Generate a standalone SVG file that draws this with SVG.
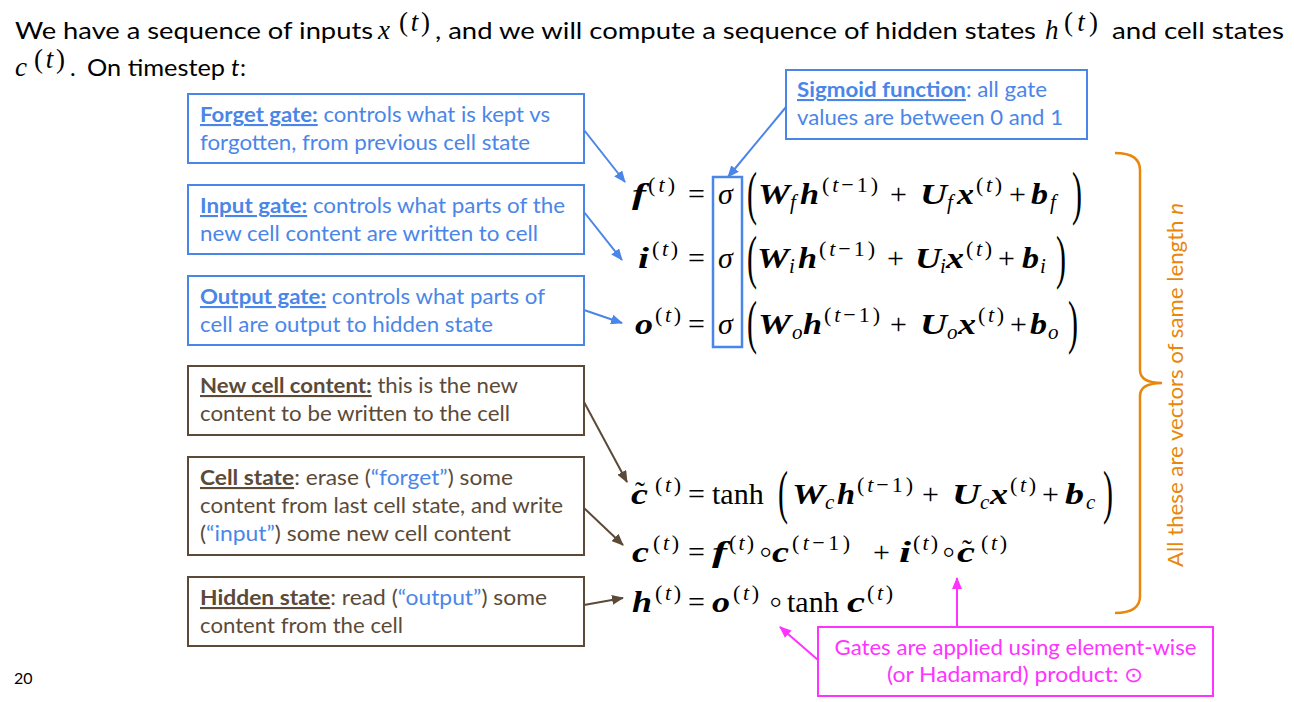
<svg xmlns="http://www.w3.org/2000/svg" width="1294" height="702" viewBox="0 0 1294 702">
<style>
.bg{fill:#fff}
.bb{fill:none;stroke:#4a86e8;stroke-width:2}
.br{fill:none;stroke:#5c4a38;stroke-width:2}
.bp{fill:none;stroke:#ff33ff;stroke-width:2}
.t{font-family:Lato,"Liberation Sans",sans-serif;font-size:21px}
.h{font-family:Lato,"Liberation Sans",sans-serif;font-size:24px;fill:#000}
.cb{fill:#4a86e8}
.cr{fill:#5c4a38}
.cp{fill:#ff33ff}
.co{fill:#e8870c}
.lbl{font-weight:bold;text-decoration:underline}
.m{font-family:"Liberation Serif",serif;font-size:30px;fill:#000}
.mb{font-weight:bold;font-style:italic}
.s{font-family:"Liberation Serif",serif;font-size:22px;fill:#000}
.hs{font-family:"Liberation Serif",serif;font-size:27px;fill:#000}
.sb{font-family:"Liberation Serif",serif;font-size:21px;fill:#000;font-style:italic}
.i{font-style:italic}
.ring{font-family:"DejaVu Sans",sans-serif;font-size:34px;font-weight:200;fill:#000;letter-spacing:-14px}
.cl{fill:none;stroke-width:2}
</style>
<defs>
<marker id="ab" markerUnits="userSpaceOnUse" markerWidth="12" markerHeight="10" refX="11" refY="5" orient="auto"><path d="M0,0 L12,5 L0,10 z" fill="#4a86e8"/></marker>
<marker id="ar" markerUnits="userSpaceOnUse" markerWidth="12" markerHeight="10" refX="11" refY="5" orient="auto"><path d="M0,0 L12,5 L0,10 z" fill="#5c4a38"/></marker>
<marker id="ap" markerUnits="userSpaceOnUse" markerWidth="12" markerHeight="10" refX="11" refY="5" orient="auto"><path d="M0,0 L12,5 L0,10 z" fill="#ff33ff"/></marker>
</defs>
<rect class="bg" x="0" y="0" width="1294" height="702"/>

<g id="header">
<text class="h" x="15" y="39" textLength="358" lengthAdjust="spacingAndGlyphs">We have a sequence of inputs</text>
<text class="m i" x="378" y="39" style="font-size:27px">x</text>
<text class="hs" x="399" y="31" textLength="31">(<tspan class="i">t</tspan>)</text>
<text class="h" x="435" y="39" textLength="601" lengthAdjust="spacingAndGlyphs">, and we will compute a sequence of hidden states</text>
<text class="m i" x="1045" y="39" style="font-size:27px">h</text>
<text class="hs" x="1064" y="31" textLength="34">(<tspan class="i">t</tspan>)</text>
<text class="h" x="1112" y="39" textLength="172" lengthAdjust="spacingAndGlyphs">and cell states</text>
<text class="m i" x="15" y="76" style="font-size:27px">c</text>
<text class="hs" x="34" y="68" textLength="31">(<tspan class="i">t</tspan>)</text>
<text class="h" x="70" y="76">.</text>
<text class="h" x="87" y="76" textLength="138" lengthAdjust="spacingAndGlyphs">On timestep</text>
<text class="h i" x="231" y="76">t</text>
<text class="h" x="240" y="76">:</text>
</g>

<g id="forget-gate">
<rect class="bb" x="188" y="94" width="396" height="69"/>
<text class="t cb" x="200" y="122" textLength="350" lengthAdjust="spacingAndGlyphs"><tspan class="lbl">Forget gate:</tspan> controls what is kept vs</text>
<text class="t cb" x="200" y="150" textLength="330" lengthAdjust="spacingAndGlyphs">forgotten, from previous cell state</text>
</g>
<g id="input-gate">
<rect class="bb" x="188" y="185" width="396" height="69"/>
<text class="t cb" x="200" y="213" textLength="365" lengthAdjust="spacingAndGlyphs"><tspan class="lbl">Input gate:</tspan> controls what parts of the</text>
<text class="t cb" x="200" y="241" textLength="338" lengthAdjust="spacingAndGlyphs">new cell content are written to cell</text>
</g>
<g id="output-gate">
<rect class="bb" x="188" y="276" width="396" height="69"/>
<text class="t cb" x="200" y="304" textLength="345" lengthAdjust="spacingAndGlyphs"><tspan class="lbl">Output gate:</tspan> controls what parts of</text>
<text class="t cb" x="200" y="332" textLength="293" lengthAdjust="spacingAndGlyphs">cell are output to hidden state</text>
</g>
<g id="new-cell-content">
<rect class="br" x="188" y="366" width="396" height="69"/>
<text class="t cr" x="200" y="393" textLength="318" lengthAdjust="spacingAndGlyphs"><tspan class="lbl">New cell content:</tspan> this is the new</text>
<text class="t cr" x="200" y="421" textLength="310" lengthAdjust="spacingAndGlyphs">content to be written to the cell</text>
</g>
<g id="cell-state">
<rect class="br" x="188" y="457" width="396" height="98"/>
<text class="t cr" x="200" y="485" textLength="313" lengthAdjust="spacingAndGlyphs"><tspan class="lbl">Cell state</tspan>: erase (<tspan class="cb">“forget”</tspan>) some</text>
<text class="t cr" x="200" y="513" textLength="363" lengthAdjust="spacingAndGlyphs">content from last cell state, and write</text>
<text class="t cr" x="200" y="541" textLength="311" lengthAdjust="spacingAndGlyphs">(<tspan class="cb">“input”</tspan>) some new cell content</text>
</g>
<g id="hidden-state">
<rect class="br" x="188" y="577" width="396" height="69"/>
<text class="t cr" x="200" y="605" textLength="347" lengthAdjust="spacingAndGlyphs"><tspan class="lbl">Hidden state</tspan>: read (<tspan class="cb">“output”</tspan>) some</text>
<text class="t cr" x="200" y="633" textLength="203" lengthAdjust="spacingAndGlyphs">content from the cell</text>
</g>
<g id="sigmoid-function">
<rect class="bb" x="786" y="70" width="301" height="69"/>
<text class="t cb" x="797" y="97" textLength="250" lengthAdjust="spacingAndGlyphs"><tspan class="lbl">Sigmoid function</tspan>: all gate</text>
<text class="t cb" x="797" y="125" textLength="266" lengthAdjust="spacingAndGlyphs">values are between 0 and 1</text>
</g>
<g id="sigma-box">
<rect class="bb" x="713" y="177" width="29" height="170" style="stroke-width:2.5"/>
</g>
<g id="hadamard-note">
<rect class="bp" x="818" y="627" width="395" height="69"/>
<text class="t cp" x="1015.5" y="655" text-anchor="middle" textLength="362" lengthAdjust="spacingAndGlyphs">Gates are applied using element-wise</text>
<text class="t cp" x="1015.5" y="682" text-anchor="middle" textLength="257" lengthAdjust="spacingAndGlyphs">(or Hadamard) product: ⊙</text>
</g>
<g id="vectors-note">
<path d="M1115,153 Q1140,153 1140,170 L1140,370 Q1140,383 1162,383 Q1140,383 1140,396 L1140,596 Q1140,613 1115,613" fill="none" stroke="#e8870c" stroke-width="2.5"/>
<text class="t co" transform="translate(1183,567) rotate(-90)" x="0" y="0" textLength="364" lengthAdjust="spacingAndGlyphs">All these are vectors of same length <tspan class="i">n</tspan></text>
</g>
<g id="page-number">
<text class="t" x="14" y="684" style="font-size:16px">20</text>
</g>

<g id="eq-f">
<text class="m mb" x="632" y="204" textLength="14" lengthAdjust="spacingAndGlyphs">f</text>
<text class="s" x="648" y="192" textLength="27">(<tspan class="i">t</tspan>)</text>
<text class="m" x="688" y="204">=</text>
<text class="m i" x="718" y="204">σ</text>
<text class="m" transform="translate(747,213) scale(1,2)">(</text>
<text class="m mb" x="758" y="204" textLength="32" lengthAdjust="spacingAndGlyphs">W</text>
<text class="sb" x="790" y="209">f</text>
<text class="m mb" x="800" y="204" textLength="19" lengthAdjust="spacingAndGlyphs">h</text>
<text class="s" x="822" y="192" textLength="56">(<tspan class="i">t</tspan>−1)</text>
<text class="m" x="890" y="204">+</text>
<text class="m mb" x="920" y="204" textLength="27" lengthAdjust="spacingAndGlyphs">U</text>
<text class="sb" x="947" y="209">f</text>
<text class="m mb" x="957" y="204" textLength="17" lengthAdjust="spacingAndGlyphs">x</text>
<text class="s" x="976" y="192" textLength="26">(<tspan class="i">t</tspan>)</text>
<text class="m" x="1009" y="204">+</text>
<text class="m mb" x="1031" y="204" textLength="17" lengthAdjust="spacingAndGlyphs">b</text>
<text class="sb" x="1050" y="209">f</text>
<text class="m" transform="translate(1072,213) scale(1,2)">)</text>
</g>
<g id="eq-i">
<text class="m mb" x="638" y="268" textLength="11" lengthAdjust="spacingAndGlyphs">i</text>
<text class="s" x="652" y="256" textLength="26">(<tspan class="i">t</tspan>)</text>
<text class="m" x="688" y="268">=</text>
<text class="m i" x="718" y="268">σ</text>
<text class="m" transform="translate(747,277) scale(1,2)">(</text>
<text class="m mb" x="757" y="268" textLength="32" lengthAdjust="spacingAndGlyphs">W</text>
<text class="sb" x="789" y="273">i</text>
<text class="m mb" x="798" y="268" textLength="19" lengthAdjust="spacingAndGlyphs">h</text>
<text class="s" x="819" y="256" textLength="56">(<tspan class="i">t</tspan>−1)</text>
<text class="m" x="887" y="268">+</text>
<text class="m mb" x="915" y="268" textLength="26" lengthAdjust="spacingAndGlyphs">U</text>
<text class="sb" x="940" y="273">i</text>
<text class="m mb" x="946" y="268" textLength="18" lengthAdjust="spacingAndGlyphs">x</text>
<text class="s" x="966" y="256" textLength="26">(<tspan class="i">t</tspan>)</text>
<text class="m" x="998" y="268">+</text>
<text class="m mb" x="1022" y="268" textLength="17" lengthAdjust="spacingAndGlyphs">b</text>
<text class="sb" x="1040" y="273">i</text>
<text class="m" transform="translate(1056,277) scale(1,2)">)</text>
</g>
<g id="eq-o">
<text class="m mb" x="635" y="334" textLength="18" lengthAdjust="spacingAndGlyphs">o</text>
<text class="s" x="655" y="322" textLength="26">(<tspan class="i">t</tspan>)</text>
<text class="m" x="688" y="334">=</text>
<text class="m i" x="718" y="334">σ</text>
<text class="m" transform="translate(747,342) scale(1,2)">(</text>
<text class="m mb" x="758" y="334" textLength="33" lengthAdjust="spacingAndGlyphs">W</text>
<text class="sb" x="792" y="339">o</text>
<text class="m mb" x="803" y="334" textLength="19" lengthAdjust="spacingAndGlyphs">h</text>
<text class="s" x="824" y="322" textLength="56">(<tspan class="i">t</tspan>−1)</text>
<text class="m" x="890" y="334">+</text>
<text class="m mb" x="920" y="334" textLength="27" lengthAdjust="spacingAndGlyphs">U</text>
<text class="sb" x="947" y="339">o</text>
<text class="m mb" x="958" y="334" textLength="18" lengthAdjust="spacingAndGlyphs">x</text>
<text class="s" x="978" y="322" textLength="26">(<tspan class="i">t</tspan>)</text>
<text class="m" x="1010" y="334">+</text>
<text class="m mb" x="1030" y="334" textLength="17" lengthAdjust="spacingAndGlyphs">b</text>
<text class="sb" x="1048" y="339">o</text>
<text class="m" transform="translate(1068,342) scale(1,2)">)</text>
</g>
<g id="eq-ctilde">
<text class="m mb" x="631" y="504"><tspan textLength="17" lengthAdjust="spacingAndGlyphs">c</tspan><tspan class="m" dx="-13" dy="-2" style="font-weight:normal;font-style:normal">˜</tspan></text>
<text class="s" x="655" y="492" textLength="26">(<tspan class="i">t</tspan>)</text>
<text class="m" x="688" y="504">=</text>
<text class="m" x="712" y="504">tanh</text>
<text class="m" transform="translate(778,512) scale(1,2)">(</text>
<text class="m mb" x="792" y="504" textLength="33" lengthAdjust="spacingAndGlyphs">W</text>
<text class="sb" x="825" y="509">c</text>
<text class="m mb" x="837" y="504" textLength="18" lengthAdjust="spacingAndGlyphs">h</text>
<text class="s" x="857" y="492" textLength="56">(<tspan class="i">t</tspan>−1)</text>
<text class="m" x="922" y="504">+</text>
<text class="m mb" x="952" y="504" textLength="28" lengthAdjust="spacingAndGlyphs">U</text>
<text class="sb" x="980" y="509">c</text>
<text class="m mb" x="990" y="504" textLength="18" lengthAdjust="spacingAndGlyphs">x</text>
<text class="s" x="1010" y="492" textLength="26">(<tspan class="i">t</tspan>)</text>
<text class="m" x="1042" y="504">+</text>
<text class="m mb" x="1065" y="504" textLength="19" lengthAdjust="spacingAndGlyphs">b</text>
<text class="sb" x="1086" y="509">c</text>
<text class="m" transform="translate(1103,512) scale(1,2)">)</text>
</g>
<g id="eq-c">
<text class="m mb" x="632" y="562" textLength="17" lengthAdjust="spacingAndGlyphs">c</text>
<text class="s" x="653" y="550" textLength="26">(<tspan class="i">t</tspan>)</text>
<text class="m" x="688" y="562">=</text>
<text class="m mb" x="712" y="562" textLength="15" lengthAdjust="spacingAndGlyphs">f</text>
<text class="s" x="729" y="550" textLength="25">(<tspan class="i">t</tspan>)</text>
<text class="ring" x="755" y="563">∘</text>
<text class="m mb" x="772" y="562" textLength="17" lengthAdjust="spacingAndGlyphs">c</text>
<text class="s" x="792" y="550" textLength="58">(<tspan class="i">t</tspan>−1)</text>
<text class="m" x="873" y="562">+</text>
<text class="m mb" x="899" y="562" textLength="12" lengthAdjust="spacingAndGlyphs">i</text>
<text class="s" x="913" y="550" textLength="25">(<tspan class="i">t</tspan>)</text>
<text class="ring" x="938" y="563">∘</text>
<text class="m mb" x="957" y="562"><tspan textLength="18" lengthAdjust="spacingAndGlyphs">c</tspan><tspan class="m" dx="-13" dy="-2" style="font-weight:normal;font-style:normal">˜</tspan></text>
<text class="s" x="981" y="550" textLength="26">(<tspan class="i">t</tspan>)</text>
</g>
<g id="eq-h">
<text class="m mb" x="632" y="612" textLength="20" lengthAdjust="spacingAndGlyphs">h</text>
<text class="s" x="655" y="600" textLength="26">(<tspan class="i">t</tspan>)</text>
<text class="m" x="688" y="612">=</text>
<text class="m mb" x="712" y="612" textLength="18" lengthAdjust="spacingAndGlyphs">o</text>
<text class="s" x="733" y="600" textLength="26">(<tspan class="i">t</tspan>)</text>
<text class="ring" x="765" y="613">∘</text>
<text class="m" x="787" y="612">tanh</text>
<text class="m mb" x="847" y="612" textLength="18" lengthAdjust="spacingAndGlyphs">c</text>
<text class="s" x="867" y="600" textLength="26">(<tspan class="i">t</tspan>)</text>
</g>

<g id="connectors">
<line class="cl" x1="584" y1="130" x2="625" y2="182" stroke="#4a86e8" marker-end="url(#ab)"/>
<line class="cl" x1="584" y1="212" x2="622" y2="260" stroke="#4a86e8" marker-end="url(#ab)"/>
<line class="cl" x1="584" y1="310" x2="622" y2="323" stroke="#4a86e8" marker-end="url(#ab)"/>
<line class="cl" x1="786" y1="107" x2="728" y2="177" stroke="#4a86e8" marker-end="url(#ab)"/>
<line class="cl" x1="584" y1="402" x2="627" y2="482" stroke="#5c4a38" marker-end="url(#ar)"/>
<line class="cl" x1="584" y1="508" x2="623" y2="545" stroke="#5c4a38" marker-end="url(#ar)"/>
<line class="cl" x1="584" y1="605" x2="623" y2="598" stroke="#5c4a38" marker-end="url(#ar)"/>
<line class="cl" x1="957" y1="627" x2="957" y2="578" stroke="#ff33ff" marker-end="url(#ap)"/>
<line class="cl" x1="818" y1="660" x2="780" y2="627" stroke="#ff33ff" marker-end="url(#ap)"/>
</g>
</svg>
